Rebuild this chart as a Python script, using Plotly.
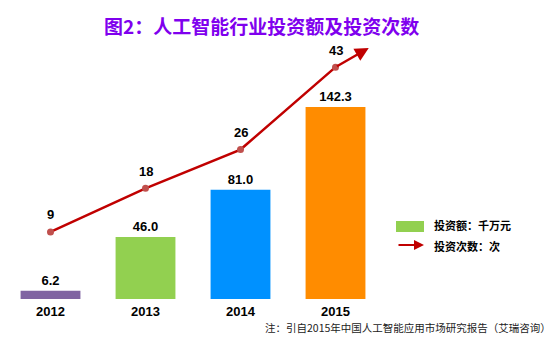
import plotly.graph_objects as go

# ---- data ----
years = ["2012", "2013", "2014", "2015"]
amount = [6.2, 46.0, 81.0, 142.3]      # 投资额：千万元
counts = [9, 18, 26, 43]               # 投资次数：次
bar_colors = ["#8064A2", "#92D050", "#0091FF", "#FF8C00"]

title_text = "图2：人工智能行业投资额及投资次数"
legend_bar = "投资额：千万元"
legend_line = "投资次数：次"
note_text = "注：引自2015年中国人工智能应用市场研究报告（艾瑞咨询）"

W, H = 558, 347
FONT = "Liberation Sans, Noto Sans CJK SC, sans-serif"
CJK = "Noto Sans CJK SC, sans-serif"


def px_x(p):
    return p / W


def px_y(p):
    return 1 - p / H


fig = go.Figure()

fig.add_bar(
    x=years, y=amount,
    marker=dict(color=bar_colors, line=dict(width=0)),
    width=0.63,
    text=[f"{v:.1f}" for v in amount],
    textposition="outside",
    textfont=dict(family=FONT, size=13, color="#000000", weight="bold"),
    cliponaxis=False,
    yaxis="y",
    showlegend=False,
)

fig.add_scatter(
    x=years, y=counts,
    mode="lines+markers",
    line=dict(color="#C00000", width=2.5),
    marker=dict(color="#C0504D", size=7),
    yaxis="y2",
    cliponaxis=False,
    showlegend=False,
)

annotations = []
# labels above line points
for i, c in enumerate(counts):
    annotations.append(dict(
        x=i, y=c, xref="x", yref="y2", text=str(c), showarrow=False,
        yshift=17, font=dict(family=FONT, size=13, color="#000000", weight="bold"),
    ))

# arrow head continuing the overall trend beyond the last point
n = len(counts)
avg_step = (counts[-1] - counts[0]) / (n - 1)
ext = 0.35
annotations.append(dict(
    x=(n - 1) + ext, y=counts[-1] + ext * avg_step, xref="x", yref="y2",
    ax=n - 1, ay=counts[-1], axref="x", ayref="y2",
    text="", showarrow=True, arrowhead=2, arrowsize=1.1, arrowwidth=2.5,
    arrowcolor="#C00000", standoff=0, startstandoff=0,
))

# title
annotations.append(dict(
    x=px_x(261), y=px_y(25), xref="paper", yref="paper",
    xanchor="center", yanchor="middle", showarrow=False,
    text=title_text,
    font=dict(family=CJK, size=19, color="#7F00EE", weight="bold"),
))

# legend texts
annotations.append(dict(
    x=px_x(432), y=px_y(225), xref="paper", yref="paper",
    xanchor="left", yanchor="middle", showarrow=False, text=legend_bar,
    font=dict(family=CJK, size=11, color="#000000", weight="bold"),
))
annotations.append(dict(
    x=px_x(432), y=px_y(246), xref="paper", yref="paper",
    xanchor="left", yanchor="middle", showarrow=False, text=legend_line,
    font=dict(family=CJK, size=11, color="#000000", weight="bold"),
))
# legend arrow
annotations.append(dict(
    x=px_x(424), y=px_y(245), xref="paper", yref="paper",
    ax=-27, ay=0, axref="pixel", ayref="pixel",
    text="", showarrow=True, arrowhead=2, arrowsize=1, arrowwidth=2,
    arrowcolor="#C00000", standoff=0,
))

# note
annotations.append(dict(
    x=px_x(553), y=px_y(327), xref="paper", yref="paper",
    xanchor="right", yanchor="middle", showarrow=False, text=note_text,
    font=dict(family=CJK, size=10.5, color="#222222"),
))

shapes = [dict(
    type="rect", xref="paper", yref="paper",
    x0=px_x(396), x1=px_x(424), y0=px_y(232), y1=px_y(221),
    fillcolor="#92D050", line=dict(width=0),
)]

fig.update_layout(
    template="none",
    width=W, height=H,
    margin=dict(l=0, r=0, t=0, b=0),
    paper_bgcolor="white", plot_bgcolor="white",
    showlegend=False,
    xaxis=dict(
        type="category", categoryorder="array", categoryarray=years,
        range=[-0.5, 3.5],
        domain=[px_x(3), px_x(383)],
        anchor="y",
        showline=False, showgrid=False, zeroline=False, ticks="",
        ticklabelstandoff=3,
        tickfont=dict(family=FONT, size=13, color="#000000", weight="bold"),
        automargin=False,
    ),
    yaxis=dict(
        range=[0, 192], domain=[px_y(299), px_y(40)],
        visible=False, showgrid=False, zeroline=False, automargin=False,
    ),
    yaxis2=dict(
        range=[-4.83, 48.6], overlaying="y", side="right",
        visible=False, showgrid=False, zeroline=False, automargin=False,
    ),
    annotations=annotations,
    shapes=shapes,
)

fig.write_html("out.html")
